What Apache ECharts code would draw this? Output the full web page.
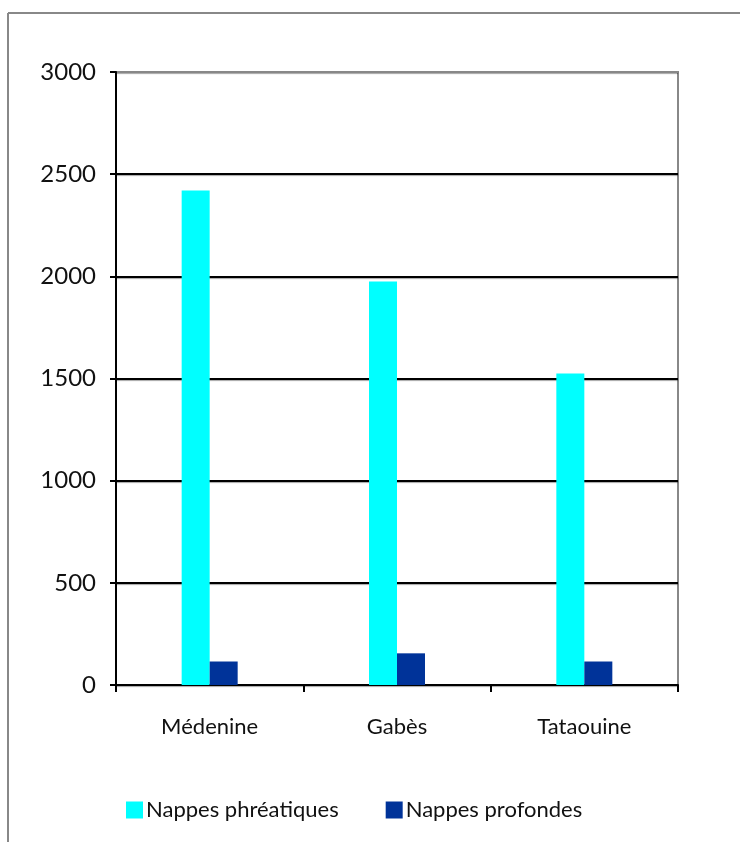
<!DOCTYPE html>
<html>
<head>
<meta charset="utf-8">
<script src="https://cdn.jsdelivr.net/npm/echarts@6/dist/echarts.min.js"></script>
<style>
html,body{margin:0;padding:0;background:#fff;}
#chart{width:740px;height:842px;}
</style>
</head>
<body>
<div id="chart"></div>
<script>
const categories = ['Médenine', 'Gabès', 'Tataouine'];
const seriesNames = ['Nappes phréatiques', 'Nappes profondes'];
const phreatiques = [2420, 1975, 1525];
const profondes = [115, 155, 115];
const yTicks = [0, 500, 1000, 1500, 2000, 2500, 3000];

const chart = echarts.init(document.getElementById('chart'), null, {renderer: 'canvas'});
const FONT = 'Lato';
chart.setOption({
  backgroundColor: '#fff',
  animation: false,
  textStyle: {fontFamily: FONT},
  graphic: [
    {type: 'line', shape: {x1: 8, y1: 13, x2: 740, y2: 13}, style: {stroke: '#888', lineWidth: 2}},
    {type: 'line', shape: {x1: 8, y1: 13, x2: 8, y2: 842}, style: {stroke: '#888', lineWidth: 2}}
  ],
  grid: {left: 116, top: 72, width: 562, height: 613, show: true, borderColor: '#888', borderWidth: 2, backgroundColor: 'transparent'},
  legend: {
    left: 121, top: 794,
    itemWidth: 17, itemHeight: 17, itemGap: 47,
    icon: 'rect',
    textStyle: {fontFamily: FONT, fontSize: 22, color: '#111', padding: [0,0,0,-2]},
    data: seriesNames
  },
  xAxis: {
    type: 'category',
    data: categories,
    axisLine: {lineStyle: {color: '#000', width: 2}},
    axisTick: {show: true, length: 7, lineStyle: {color: '#000', width: 2}},
    axisLabel: {fontFamily: FONT, fontSize: 22, color: '#111', margin: 31}
  },
  yAxis: {
    type: 'value',
    min: 0, max: 3000, interval: 500,
    axisLine: {show: true, lineStyle: {color: '#000', width: 2}},
    axisTick: {show: true, length: 6, lineStyle: {color: '#000', width: 2}},
    axisLabel: {fontFamily: FONT, fontSize: 24, color: '#111', margin: 20,
      formatter: v => yTicks.includes(v) ? String(v) : ''},
    splitLine: {show: true, lineStyle: {color: ['#000','#000','#000','#000','#000','#000','#888'], width: 2, shadowColor: 'rgba(0,0,0,0.35)', shadowOffsetY: 1, shadowBlur: 1}}
  },
  series: [
    {name: seriesNames[0], type: 'bar', data: phreatiques, barWidth: 28, barGap: '0%', itemStyle: {color: '#00FFFF'}},
    {name: seriesNames[1], type: 'bar', data: profondes, barWidth: 28, barGap: '0%', itemStyle: {color: '#003399'}}
  ]
});
</script>
</body>
</html>
